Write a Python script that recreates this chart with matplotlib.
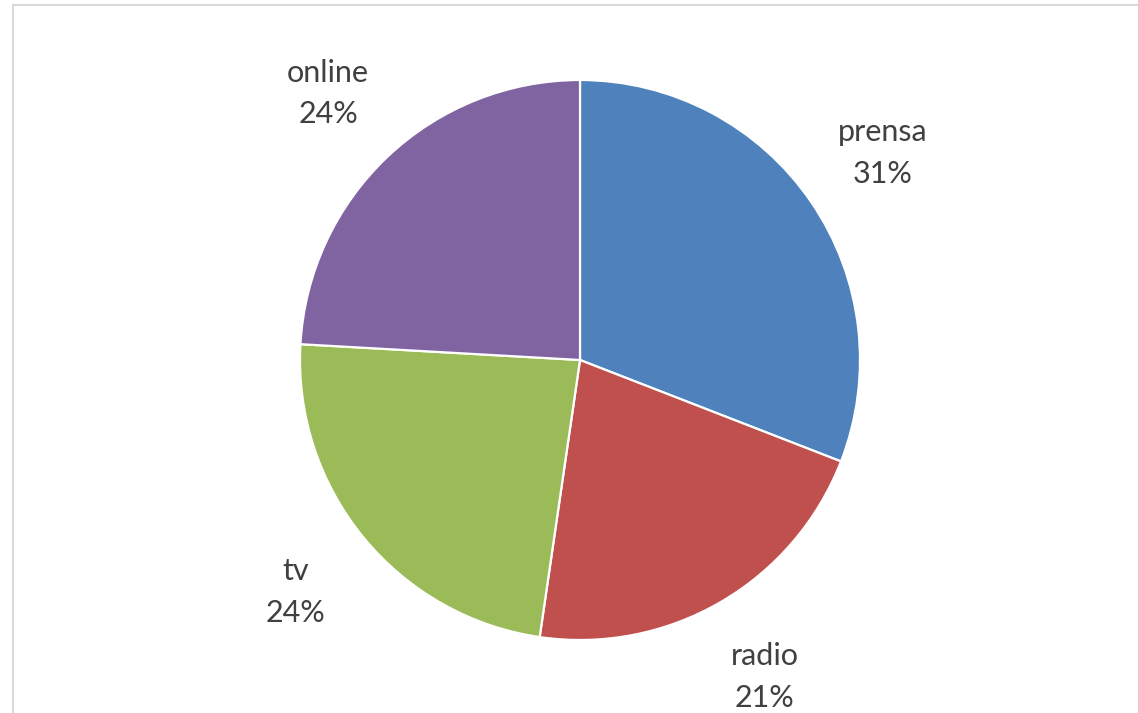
import matplotlib.pyplot as plt
from matplotlib.patches import Rectangle

# datos del grafico
medios = ["prensa", "radio", "tv", "online"]
valores = [30.9, 21.4, 23.6, 24.1]
colores = ["#4F81BD", "#C0504D", "#9BBB59", "#8064A2"]

plt.rcParams['font.family'] = ['Lato', 'DejaVu Sans']

W, H = 1138, 713
fig = plt.figure(figsize=(W / 100, H / 100), dpi=100)

# marco gris del area del grafico
fig.patches.append(Rectangle((12.5 / W, -0.1), 1.2, 1 - 5.5 / H + 0.1,
                             transform=fig.transFigure, fill=False,
                             edgecolor="#D9D9D9", linewidth=1.5))

# centro (580, 360) px, radio 280 px
cx, cy, r = 580, H - 360, 280
ax = fig.add_axes([(cx - r) / W, (cy - r) / H, 2 * r / W, 2 * r / H])

total = sum(valores)
etiquetas = [f"{m}\n{v / total * 100:.0f}%" for m, v in zip(medios, valores)]

wedges, texts = ax.pie(valores, colors=colores, startangle=90, counterclock=False,
                       radius=1, labels=etiquetas, labeldistance=1.31,
                       wedgeprops=dict(edgecolor="white", linewidth=1.6))
for t in texts:
    t.set_ha("center")
    t.set_va("center")
    t.set_fontsize(22)
    t.set_color("#404040")
    t.set_linespacing(1.6)

ax.set_xlim(-1, 1)
ax.set_ylim(-1, 1)
ax.set_aspect("equal")
ax.axis("off")

fig.savefig("out.png", dpi=100)
